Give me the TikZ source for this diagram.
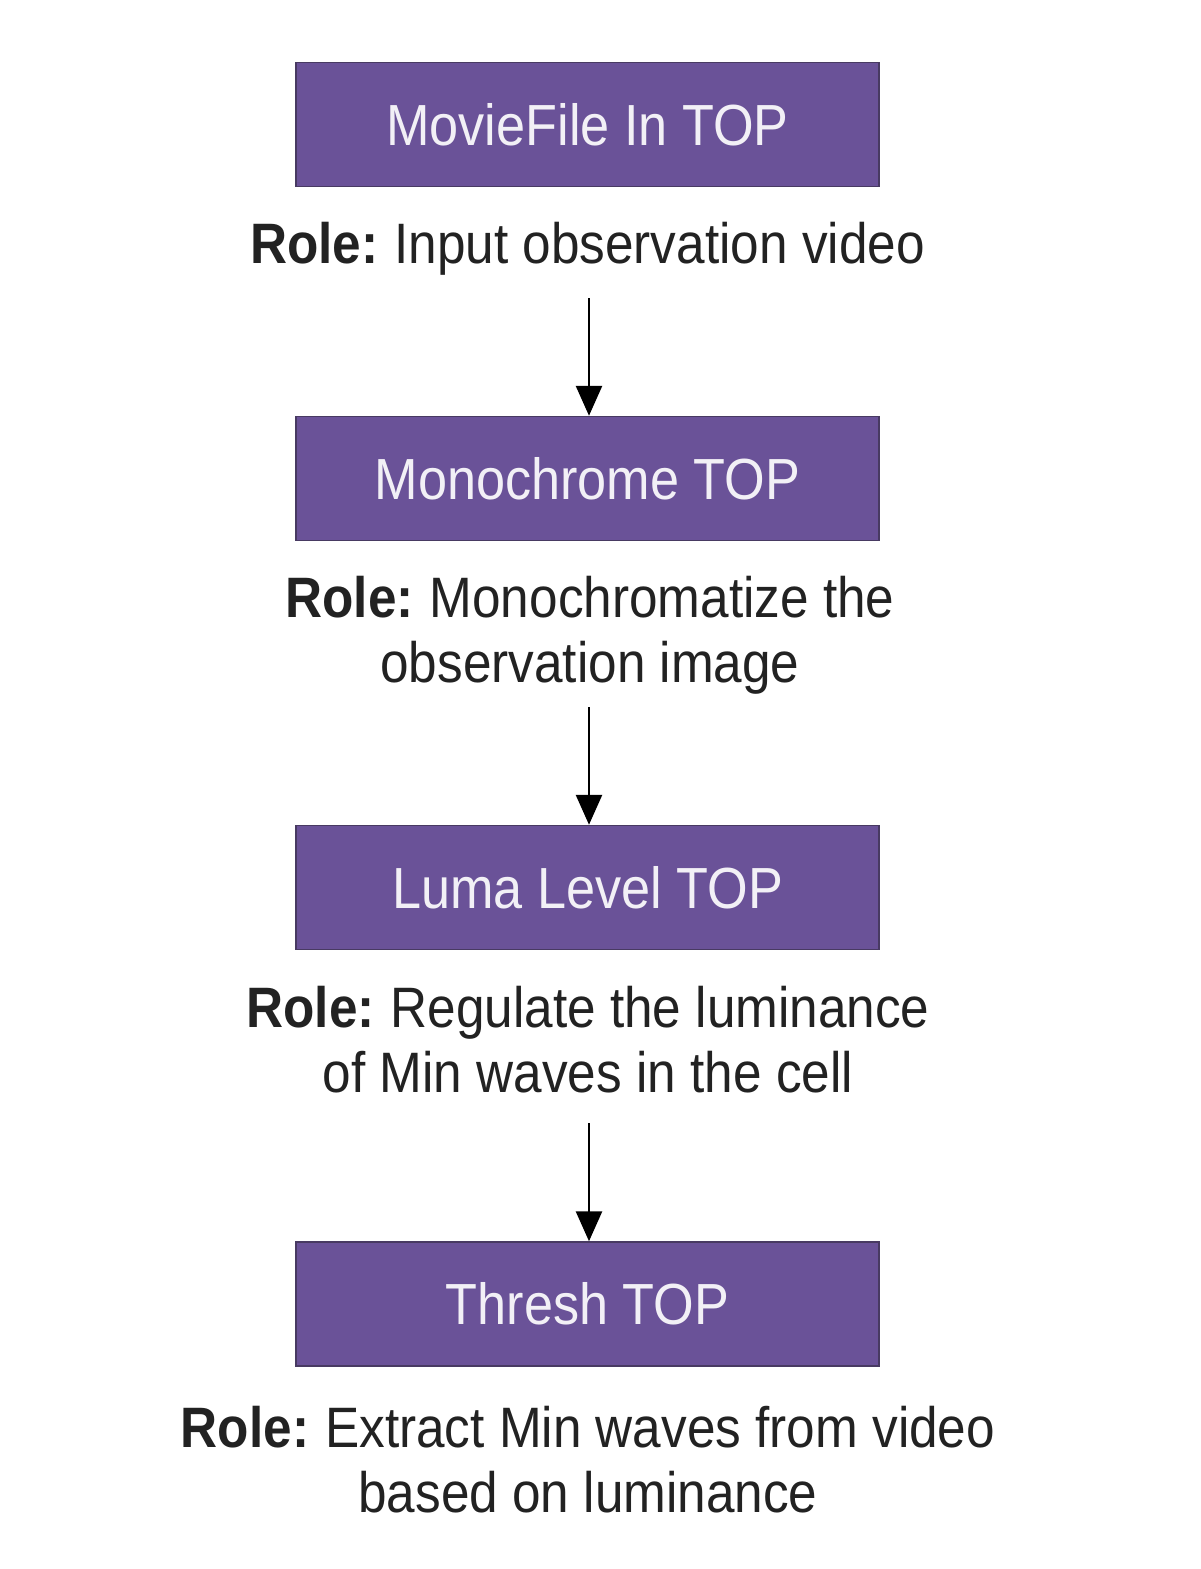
\documentclass[tikz,border=0pt]{standalone}
\usepackage{fontspec}
\setmainfont[FakeStretch=0.9]{Liberation Sans}
\usetikzlibrary{arrows.meta}
\definecolor{boxpurple}{RGB}{106,82,152}
\definecolor{boxborder}{RGB}{72,58,98}
\definecolor{boxtext}{RGB}{242,240,246}
\definecolor{roletext}{RGB}{34,34,34}
\tikzset{
  x=1pt, y=-1pt,
  topbox/.style={rectangle, fill=boxpurple, draw=boxborder, line width=1.5pt,
    minimum width=583pt, minimum height=124pt, inner sep=0pt, text=boxtext,
    font=\fontsize{58}{66}\selectfont},
  roletxt/.style={align=center, text=roletext, inner sep=0pt,
    font=\fontsize{57}{65}\selectfont},
  arr/.style={line width=2.8pt, draw=black, -{Triangle[length=30pt,width=26pt]}}
}
\begin{document}
\begin{tikzpicture}
\useasboundingbox (0,0) rectangle (1200,1569);
\fill[white] (0,0) rectangle (1200,1569);

\node[topbox] (b1) at (587.5,124.5) {MovieFile In TOP};
\node[roletxt] (r1) at (587.5,249) {\textbf{Role:}\hspace{-3pt} Input observation video};

\node[topbox] (b2) at (587.5,478.5) {Monochrome TOP};
\node[roletxt] (r2) at (590,635) {\textbf{Role:}\hspace{-3pt} Monochromatize the\\observation image};

\node[topbox] (b3) at (587.5,887.5) {Luma Level TOP};
\node[roletxt] (r3) at (588,1040) {\textbf{Role:}\hspace{-3pt} Regulate the luminance\\of Min waves in the cell};

\node[topbox] (b4) at (587.5,1304) {Thresh TOP};
\node[roletxt] (r4) at (588,1460) {\textbf{Role:}\hspace{-3pt} Extract Min waves from video\\based on luminance};

\coordinate (c1) at (589,298);
\coordinate (c2) at (589,707);
\coordinate (c3) at (589,1123);

\draw[arr] (c1) -- (c1 |- b2.north);
\draw[arr] (c2) -- (c2 |- b3.north);
\draw[arr] (c3) -- (c3 |- b4.north);
\end{tikzpicture}
\end{document}
